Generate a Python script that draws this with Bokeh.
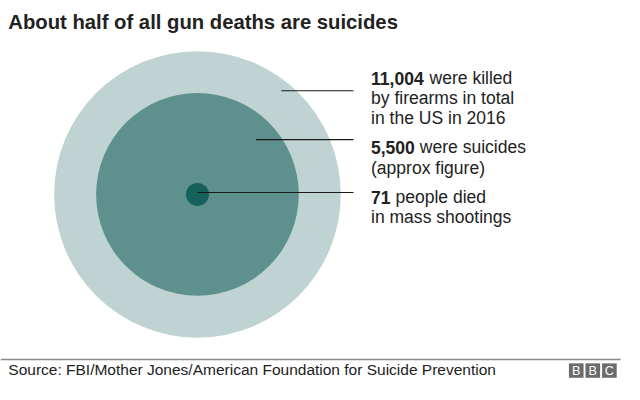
from bokeh.plotting import figure
from bokeh.models import Range1d, ColumnDataSource
from bokeh.core.properties import value
from bokeh.embed import file_html
from bokeh.resources import INLINE
import math

# ---- data ----
values = [11004, 5500, 71]
bold_labels = ["11,004", "5,500", "71"]
label_lines = [
    ["were killed", "by firearms in total", "in the US in 2016"],
    ["were suicides", "(approx figure)"],
    ["people died", "in mass shootings"],
]
title = "About half of all gun deaths are suicides"
source_text = "Source: FBI/Mother Jones/American Foundation for Suicide Prevention"
circle_colors = ["#bfd3d2", "#5e918e", "#17615d"]

FONT = "Liberation Sans"
W, H = 624, 384
SX = W / 640.0  # pixels per layout unit

# layout in units of the 640x400 reference picture
cx, cy = 202, 202
k = 147 / math.sqrt(max(values))
radii = [k * math.sqrt(v) for v in values]

p = figure(width=W, height=H, output_backend="svg", toolbar_location=None,
           x_range=Range1d(0, 640), y_range=Range1d(400, 0),
           min_border=0, min_border_left=0, min_border_right=0,
           min_border_top=0, min_border_bottom=0)
p.axis.visible = False
p.grid.visible = False
p.outline_line_color = None
p.background_fill_color = "white"
p.border_fill_color = "white"

def px(v):
    return f"{v * SX:.2f}px"

# circles (largest first)
src = ColumnDataSource(dict(x=[cx] * 3, y=[cy] * 3, r=radii, c=circle_colors))
p.circle(x="x", y="y", radius="r", fill_color="c", line_color=None, source=src)

# connector lines
line_y = [94, 145, 200]
line_x0 = [288, 262, cx]
p.segment(x0=line_x0, y0=line_y, x1=[362] * 3, y1=line_y, line_color="#1a1a1a", line_width=1.2)

# labels
fs = 18
widths = {"0": .556, "1": .556, "2": .556, "3": .556, "4": .556, "5": .556,
          "6": .556, "7": .556, "8": .556, "9": .556, ",": .278}
baselines = [[81, 101.5, 122], [153, 174], [205, 226]]
tx = 380
for bl, rest, ys in zip(bold_labels, label_lines, baselines):
    w = sum(widths.get(ch, .556) for ch in bl) * fs + 0.278 * fs
    p.text(x=[tx], y=[ys[0]], text=[bl], text_font=value(FONT), text_font_style="bold",
           text_font_size=px(fs), text_color="#222222", text_baseline="alphabetic")
    p.text(x=[tx + w], y=[ys[0]], text=[rest[0]], text_font=value(FONT),
           text_font_size=px(fs), text_color="#222222", text_baseline="alphabetic")
    for line, yy in zip(rest[1:], ys[1:]):
        p.text(x=[tx], y=[yy], text=[line], text_font=value(FONT),
               text_font_size=px(fs), text_color="#222222", text_baseline="alphabetic")

# title
p.text(x=[8], y=[22], text=[title], text_font=value(FONT), text_font_style="bold",
       text_font_size=px(20.8), text_color="#222222", text_baseline="alphabetic")

# footer
p.segment(x0=[0], y0=[374], x1=[636], y1=[374], line_color="#888888", line_width=1.5)
p.text(x=[8], y=[384], text=[source_text], text_font=value(FONT),
       text_font_size=px(15.9), text_color="#222222", text_baseline="middle")

# BBC blocks
bx = [583, 600, 617]
p.quad(left=bx, right=[b + 15 for b in bx], top=[378] * 3, bottom=[393] * 3,
       fill_color="#6b6b6b", line_color=None)
p.text(x=[b + 7.5 for b in bx], y=[386] * 3, text=["B", "B", "C"], text_font=value(FONT),
       text_font_size=px(13), text_color="white", text_align="center",
       text_baseline="middle")

open("out.html", "w").write(file_html(p, INLINE))
